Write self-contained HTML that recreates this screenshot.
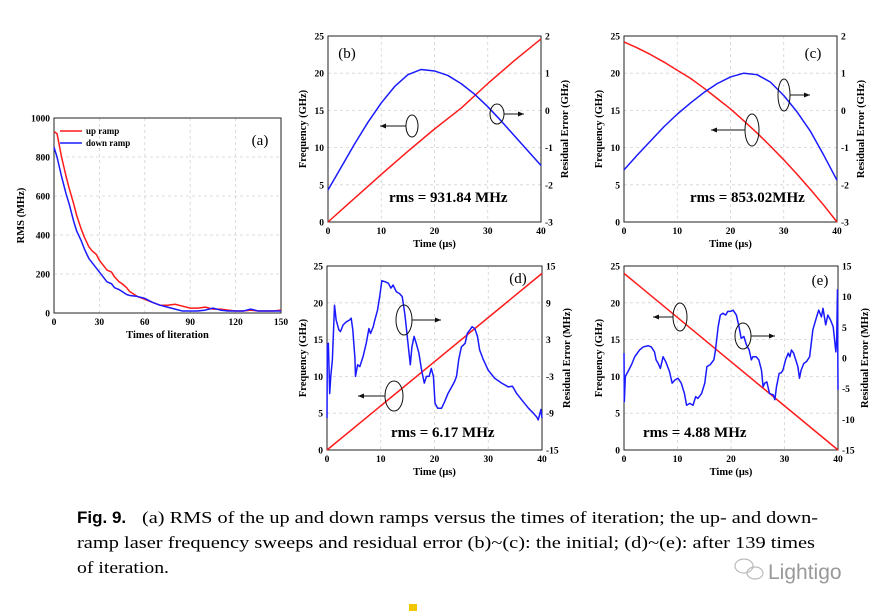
<!DOCTYPE html>
<html><head><meta charset="utf-8"><style>
body{margin:0;background:#fff}
svg{display:block;font-family:"Liberation Serif",serif}
.tk{font-size:9.5px;font-weight:bold}
.lb{font-size:10.5px;font-weight:bold}
</style></head><body>
<svg id="fig" width="888" height="611" viewBox="0 0 888 611">
<g id="root"></g>
<text x="77" y="523" font-family="Liberation Sans,sans-serif" font-weight="bold" font-size="17">Fig. 9.</text>
<text x="142" y="523" font-size="17" textLength="676" lengthAdjust="spacingAndGlyphs">(a) RMS of the up and down ramps versus the times of iteration; the up- and down-</text>
<text x="77" y="548" font-size="17" textLength="738" lengthAdjust="spacingAndGlyphs">ramp laser frequency sweeps and residual error (b)~(c): the initial; (d)~(e): after 139 times</text>
<text x="77" y="573" font-size="17" textLength="92" lengthAdjust="spacingAndGlyphs">of iteration.</text>
<g fill="none" stroke="#bbb" stroke-width="1.2">
<ellipse cx="744" cy="566" rx="9" ry="7"/><ellipse cx="755" cy="573" rx="8" ry="6"/>
</g>
<text x="768" y="579" font-family="Liberation Sans,sans-serif" font-size="21" fill="#999">Lightigo</text>
<rect x="409" y="604" width="8" height="7" fill="#f3c700"/>
</svg>
<script>
// panel (a)
const aIter = [0,2,5,8,10,13,15,18,20,23,25,28,30,33,35,38,40,43,45,48,50,55,60,65,70,75,80,85,90,95,100,105,110,115,120,125,130,135,140,145,150];
const aUp   = [930,920,800,700,640,560,500,430,390,340,320,300,270,240,220,210,185,160,150,130,110,85,70,55,40,40,45,35,25,25,30,20,20,15,10,10,15,10,10,10,15];
const aIterD= [0,2,5,8,10,13,15,18,20,23,25,28,30,33,35,38,40,43,45,48,50,55,60,65,70,75,80,85,90,95,100,105,110,115,120,125,130,135,140,145,150];
const aDown = [850,800,700,610,560,470,420,370,330,280,260,230,210,180,160,150,130,120,110,95,90,85,75,55,40,30,20,10,10,10,15,25,15,10,10,10,20,10,10,10,10];
const aXTicks=[0,30,60,90,120,150];
const aYTicks=[0,200,400,600,800,1000];
// panel (b)
const bT=[0,5,10,15,20,25,30,35,40];
const bFreq=[0,3.2,6.4,9.5,12.5,15.3,18.6,21.7,24.6];
const bResT=[0,2.5,5,7.5,10,12.5,15,17.5,20,22.5,25,27.5,30,32.5,35,37.5,40];
const bRes=[-2.14,-1.52,-0.9,-0.32,0.2,0.64,0.96,1.1,1.06,0.94,0.72,0.44,0.1,-0.28,-0.68,-1.08,-1.48];
// panel (c)
const cT=[0,2.5,5,7.5,10,12.5,15,17.5,20,22.5,25,27.5,30,32.5,35,37.5,40];
const cFreq=[24.2,23.4,22.5,21.5,20.4,19.3,18.0,16.6,15.2,13.6,11.95,10.2,8.36,6.42,4.39,2.26,0];
const cResT=[0,2.5,5,7.5,10,12.5,15,17.5,20,22.5,25,27.5,30,32.5,35,37.5,40];
const cRes=[-1.6,-1.2,-0.82,-0.44,-0.1,0.2,0.48,0.72,0.9,1.0,0.96,0.76,0.4,-0.04,-0.56,-1.2,-1.88];
// panel (d)
const dT=[0,40];
const dFreq=[0,24];
const dResT=[0,0.06,0.25,0.5,0.7,1.0,1.4,1.7,2.2,2.5,3.0,3.6,4.2,4.5,4.8,5.2,5.3,5.7,6.1,6.7,7.3,7.8,8.1,8.6,8.9,9.4,9.8,10.2,10.9,11.4,11.9,12.3,12.9,13.5,14.0,14.5,14.8,15.2,15.5,15.8,16.2,16.6,17.1,17.6,18.1,18.5,19.0,19.4,19.8,20.1,20.6,21.3,21.9,22.5,23.2,23.7,24.1,24.5,25.0,25.7,26.1,26.6,27.0,27.5,28.0,28.4,29.1,30.0,31.2,32.5,33.7,34.5,35.3,36.2,37.5,38.4,39.0,39.3,39.8,40];
const dRes=[-9.8,2.1,2.4,-5.8,-3.0,-0.3,8.6,6.2,4.6,4.3,5.4,5.9,6.2,6.5,4.6,-0.1,-3.0,-1.1,-1.4,0.2,2.4,4.8,4.0,5.1,6.2,7.8,10.0,12.6,12.4,12.2,11.4,11.9,10.8,10.5,10.0,7.0,4.6,1.3,-1.1,1.8,3.5,2.4,0.8,-2.0,-4.1,-3.0,-3.0,-1.7,-3.0,-7.4,-8.2,-8.2,-7.1,-5.8,-4.7,-3.9,-3.0,-0.3,1.8,2.4,4.0,4.6,5.1,4.8,3.5,1.3,-0.3,-2.0,-3.3,-4.1,-4.7,-4.6,-5.8,-6.8,-8.2,-9.0,-9.6,-10.1,-8.4,-9.8];
// panel (e)
const eT=[0,40];
const eFreq=[24,0];
const eResT=[0,0.06,0.25,0.75,1.4,2.0,2.9,3.6,4.5,5.1,5.7,6.0,6.4,6.8,7.3,7.8,8.5,9.0,9.5,10.1,10.7,11.3,11.7,12.3,12.9,13.4,13.8,14.5,15.1,15.5,16.1,16.8,17.1,17.6,18.0,18.5,19.0,19.4,19.9,20.4,21.0,21.5,21.9,22.4,22.9,23.4,23.8,24.1,24.7,25.2,25.7,26.0,26.3,26.7,27.2,27.9,28.2,28.5,29.0,29.4,29.7,30.2,30.7,31.0,31.3,31.7,32.1,32.5,32.8,33.1,33.6,34.1,34.7,35.3,36.0,36.4,36.9,37.2,37.7,38.1,38.6,39.1,39.6,39.75,39.9,40];
const eRes=[0.8,-7.1,-3.0,-2.2,-1.1,0.2,1.3,1.8,2.0,1.8,1.0,-0.3,-0.9,-1.7,0.2,-0.6,-2.2,-4.1,-3.6,-3.3,-4.1,-5.8,-7.7,-7.4,-7.7,-6.3,-6.6,-5.8,-4.1,-1.4,-1.1,-0.3,1.3,5.1,7.0,7.3,7.0,7.6,7.6,7.8,7.0,5.1,3.2,3.5,2.1,1.3,-0.3,0.2,0.2,-0.3,-2.0,-4.7,-4.1,-3.9,-5.8,-6.0,-6.8,-4.7,-2.5,-2.4,-2.0,-0.3,0.8,0.2,1.3,0.8,-0.3,-1.4,-3.3,-2.0,-0.9,-0.6,0.2,4.6,6.7,7.8,6.7,8.1,5.4,7.0,6.2,5.1,1.0,2.9,11.1,-5.2];
const tTicks=[0,10,20,30,40];
const fTicks=[0,5,10,15,20,25];
const bRTicks=[-3,-2,-1,0,1,2];
const dRTicks=[-15,-9,-3,3,9,15];
const eRTicks=[-15,-10,-5,0,5,10,15];

const NS='http://www.w3.org/2000/svg';
const root=document.getElementById('root');
function mk(tag,attrs,parent){const e=document.createElementNS(NS,tag);for(const k in attrs)e.setAttribute(k,attrs[k]);(parent||root).appendChild(e);return e;}
function txt(x,y,s,cls,anchor,parent,extra){const e=mk('text',Object.assign({x:x,y:y,class:cls,'text-anchor':anchor||'middle'},extra||{}),parent);e.textContent=s;return e;}

function panel(o){
  const g=mk('g',{});
  
  
  const sx=v=>o.x0+(v-o.xmin)/(o.xmax-o.xmin)*(o.x1-o.x0);
  const sy=v=>o.y1-(v-o.ymin)/(o.ymax-o.ymin)*(o.y1-o.y0);
  const sr=v=>o.y1-(v-o.rmin)/(o.rmax-o.rmin)*(o.y1-o.y0);
  o.xt.forEach(v=>{const l=mk('line',{x1:sx(v),x2:sx(v),y1:o.y0,y2:o.y1,stroke:'#d4d4d4','stroke-dasharray':'3,3','stroke-width':0.8},g);
    
    
    const t=txt(sx(v),o.y1+12,String(v),'tk','middle',g);
    
    });
  o.yt.forEach(v=>{const l=mk('line',{x1:o.x0,x2:o.x1,y1:sy(v),y2:sy(v),stroke:'#d4d4d4','stroke-dasharray':'3,3','stroke-width':0.8},g);
    
    
    const t=txt(o.x0-4,sy(v)+3.5,String(v),'tk','end',g);
    
    });
  if(o.rt){o.rt.forEach(v=>{const t=txt(o.x1+4,sr(v)+3.5,String(v),'tk','start',g);
    
    });}
  const f=mk('rect',{x:o.x0,y:o.y0,width:o.x1-o.x0,height:o.y1-o.y0,fill:'none',stroke:'#222','stroke-width':1},g);
  
  
  o.series.forEach(s=>{
    const fy=s.right?sr:sy;
    const p=mk('polyline',{points:s.xs.map((x,i)=>sx(x)+','+fy(s.ys[i])).join(' '),fill:'none',stroke:s.c,'stroke-width':1.5,'stroke-linejoin':'round'},g);
    
    
  });
  const xl=txt((o.x0+o.x1)/2,o.y1+25,o.xlabel,'lb','middle',g);
  
  
  const yc=(o.y0+o.y1)/2;
  const yl=txt(o.ylx,yc,o.ylabel,'lb','middle',g,{transform:'rotate(-90 '+o.ylx+' '+yc+')'});
  
  
  if(o.rlabel){const rl=txt(o.rlx,yc,o.rlabel,'lb','middle',g,{transform:'rotate(-90 '+o.rlx+' '+yc+')'});
    
    }
  const pl=txt(o.tag[0],o.tag[1],o.tag[2],'','middle',g,{'font-size':15});
  
  
  if(o.rms){const r=txt(o.rms[0],o.rms[1],o.rms[2],'','start',g,{'font-size':15,'font-weight':'bold'});
    
    }
  (o.ann||[]).forEach(a=>{
    const e=mk('ellipse',{cx:a[0],cy:a[1],rx:a[2],ry:a[3],fill:'none',stroke:'#111','stroke-width':1},g);
    
    
    const d=a[4];const xs=d>0?a[0]+a[2]:a[0]-a[2];const xe=xs+d;
    const l=mk('line',{x1:xs,y1:a[1],x2:xe,y2:a[1],stroke:'#111','stroke-width':1},g);
    
    
    const s=Math.sign(d);
    mk('polygon',{points:xe+','+a[1]+' '+(xe-6*s)+','+(a[1]-2.5)+' '+(xe-6*s)+','+(a[1]+2.5),fill:'#111'},g);
  });
  return g;
}

panel({name:'panel-a-rms-chart',x0:54,x1:281,y0:118,y1:313,xmin:0,xmax:150,ymin:0,ymax:1000,xt:aXTicks,yt:aYTicks,
  series:[{name:'up-ramp-line',xs:aIter,ys:aUp,c:'#ff1a1a'},{name:'down-ramp-line',xs:aIterD,ys:aDown,c:'#1a1aff'}],
  xlabel:'Times of literation',ylabel:'RMS (MHz)',ylx:24,tag:[260,145,'(a)']});
// legend
const lg=mk('g',{});


mk('line',{x1:60,x2:82,y1:131,y2:131,stroke:'#ff1a1a','stroke-width':1.6},lg);
mk('line',{x1:60,x2:82,y1:143,y2:143,stroke:'#1a1aff','stroke-width':1.6},lg);
const l1=txt(86,134,'up ramp','','start',lg,{'font-size':9,'font-weight':'bold'});


const l2=txt(86,146,'down ramp','','start',lg,{'font-size':9,'font-weight':'bold'});



panel({name:'panel-b-initial-up-ramp',x0:328,x1:541,y0:36,y1:222,xmin:0,xmax:40,ymin:0,ymax:25,rmin:-3,rmax:2,xt:tTicks,yt:fTicks,rt:bRTicks,
  series:[{name:'frequency-line',xs:bT,ys:bFreq,c:'#ff1a1a'},{name:'residual-line',xs:bResT,ys:bRes,c:'#1a1aff',right:true}],
  xlabel:'Time (\u03bcs)',ylabel:'Frequency (GHz)',ylx:306,rlabel:'Residual Error (GHz)',rlx:568,tag:[347,58,'(b)'],
  rms:[389,202,'rms = 931.84 MHz'],ann:[[412,126,6,11,-26],[497,114,7,10,20]]});
panel({name:'panel-c-initial-down-ramp',x0:624,x1:837,y0:36,y1:222,xmin:0,xmax:40,ymin:0,ymax:25,rmin:-3,rmax:2,xt:tTicks,yt:fTicks,rt:bRTicks,
  series:[{name:'frequency-line',xs:cT,ys:cFreq,c:'#ff1a1a'},{name:'residual-line',xs:cResT,ys:cRes,c:'#1a1aff',right:true}],
  xlabel:'Time (\u03bcs)',ylabel:'Frequency (GHz)',ylx:602,rlabel:'Residual Error (GHz)',rlx:864,tag:[813,58,'(c)'],
  rms:[690,202,'rms = 853.02MHz'],ann:[[784,95,6,16,20],[752,130,7,16,-34]]});
panel({name:'panel-d-final-up-ramp',x0:327,x1:542,y0:266,y1:450,xmin:0,xmax:40,ymin:0,ymax:25,rmin:-15,rmax:15,xt:tTicks,yt:fTicks,rt:dRTicks,
  series:[{name:'frequency-line',xs:dT,ys:dFreq,c:'#ff1a1a'},{name:'residual-line',xs:dResT,ys:dRes,c:'#1a1aff',right:true}],
  xlabel:'Time (\u03bcs)',ylabel:'Frequency (GHz)',ylx:306,rlabel:'Residual Error (MHz)',rlx:570,tag:[518,283,'(d)'],
  rms:[391,437,'rms = 6.17 MHz'],ann:[[404,320,8,15,29],[394,396,9,15,-27]]});
panel({name:'panel-e-final-down-ramp',x0:624,x1:838,y0:266,y1:450,xmin:0,xmax:40,ymin:0,ymax:25,rmin:-15,rmax:15,xt:tTicks,yt:fTicks,rt:eRTicks,
  series:[{name:'frequency-line',xs:eT,ys:eFreq,c:'#ff1a1a'},{name:'residual-line',xs:eResT,ys:eRes,c:'#1a1aff',right:true}],
  xlabel:'Time (\u03bcs)',ylabel:'Frequency (GHz)',ylx:602,rlabel:'Residual Error (MHz)',rlx:868,tag:[820,285,'(e)'],
  rms:[643,437,'rms = 4.88 MHz'],ann:[[680,317,7,14,-20],[743,336,8,13,24]]});
</script>
</body></html>
